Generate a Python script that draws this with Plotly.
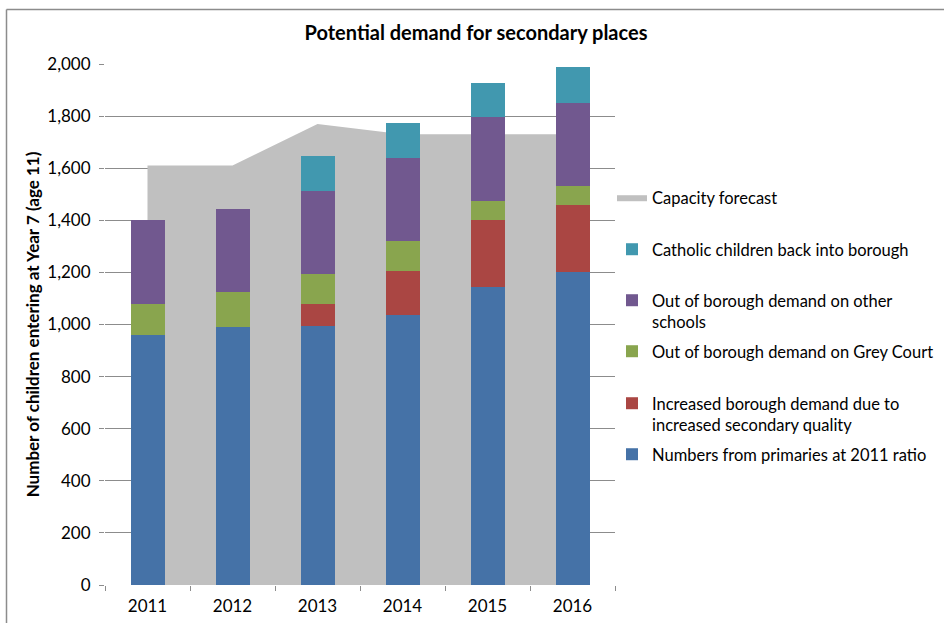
import plotly.graph_objects as go

YEARS = ["2011", "2012", "2013", "2014", "2015", "2016"]
CAPACITY = [1610, 1610, 1770, 1730, 1730, 1730]
PRIMARIES = [960, 989, 994, 1036, 1143, 1203]
INCREASED = [0, 0, 85, 169, 258, 257]
GREY_COURT = [119, 135, 115, 116, 74, 72]
OTHER_SCHOOLS = [322, 318, 319, 320, 320, 320]
CATHOLIC = [0, 0, 134, 131, 134, 137]

GREY_AREA = "#C0C0C0"
BLUE = "#4572A7"
RED = "#AA4643"
GREEN = "#89A54E"
PURPLE = "#71588F"
CYAN = "#4198AF"
AXIS_GRAY = "#8C8C8C"
TEXT = "#000000"
FONT = "Lato, 'Open Sans', sans-serif"

W, H = 944, 623
L, R, T, B = 105, 329, 64, 38
PW, PH = W - L - R, H - T - B


def px_x(x):
    return (x - L) / PW


def px_y(y):
    return (H - B - y) / PH


bar_series = [
    ("Numbers from primaries at 2011 ratio", PRIMARIES, BLUE, 454),
    ("Increased borough demand due to<br>increased secondary quality", INCREASED, RED, 403),
    ("Out of borough demand on Grey Court", GREY_COURT, GREEN, 351),
    ("Out of borough demand on other<br>schools", OTHER_SCHOOLS, PURPLE, 300),
    ("Catholic children back into borough", CATHOLIC, CYAN, 249),
]

fig = go.Figure()
fig.add_scatter(
    x=YEARS,
    y=CAPACITY,
    name="Capacity forecast",
    mode="lines",
    fill="tozeroy",
    fillcolor=GREY_AREA,
    line=dict(width=0, color=GREY_AREA),
    zorder=0,
    showlegend=True,
    legend="legend",
)

legends = {"legend": 197}
for i, (name, vals, color, ypos) in enumerate(bar_series):
    key = "legend%d" % (i + 2)
    fig.add_bar(
        x=YEARS,
        y=vals,
        name=name,
        marker=dict(color=color, line=dict(width=0)),
        width=0.4,
        zorder=1,
        showlegend=True,
        legend=key,
    )
    legends[key] = ypos

legend_layout = {}
for key, ypos in legends.items():
    legend_layout[key] = dict(
        visible=True,
        x=px_x(612),
        y=px_y(ypos - 17),
        xanchor="left",
        yanchor="top",
        valign="top",
        bgcolor="rgba(0,0,0,0)",
        font=dict(family=FONT, size=16.5, color=TEXT),
        itemclick=False,
        itemdoubleclick=False,
    )

fig.update_layout(
    width=W,
    height=H,
    margin=dict(l=L, r=R, t=T, b=B, autoexpand=False),
    paper_bgcolor="white",
    plot_bgcolor="white",
    barmode="stack",
    showlegend=True,
    font=dict(family=FONT, color=TEXT),
    title=dict(
        text="<b>Potential demand for secondary places</b>",
        x=476 / W,
        xref="container",
        xanchor="center",
        y=1 - 33 / H,
        yref="container",
        yanchor="middle",
        font=dict(family=FONT, size=20, color=TEXT),
    ),
    **legend_layout,
)

fig.update_xaxes(
    type="category",
    range=[-0.5, 5.5],
    automargin=False,
    showline=True,
    linecolor=AXIS_GRAY,
    linewidth=1,
    ticks="outside",
    tickson="boundaries",
    ticklen=5,
    tickcolor=AXIS_GRAY,
    showgrid=False,
    ticklabelstandoff=6,
    tickfont=dict(family=FONT, size=17, color=TEXT),
)
fig.update_yaxes(
    range=[0, 2000],
    dtick=200,
    tickformat=",",
    automargin=False,
    showline=True,
    linecolor=AXIS_GRAY,
    linewidth=1,
    ticks="outside",
    ticklen=5,
    tickcolor=AXIS_GRAY,
    showgrid=True,
    gridcolor=AXIS_GRAY,
    gridwidth=1,
    zeroline=False,
    ticklabelstandoff=5,
    tickfont=dict(family=FONT, size=17, color=TEXT),
    title=dict(
        text="<b>Number of children entering at Year 7 (age 11)</b>",
        font=dict(family=FONT, size=17, color=TEXT),
        standoff=3,
    ),
)

# chart frame
fig.add_shape(type="line", xref="paper", yref="paper",
              x0=px_x(6.5), x1=px_x(W + 10), y0=px_y(9.5), y1=px_y(9.5),
              line=dict(color=AXIS_GRAY, width=1.5))
fig.add_shape(type="line", xref="paper", yref="paper",
              x0=px_x(6.5), x1=px_x(6.5), y0=px_y(9.5), y1=px_y(H + 10),
              line=dict(color=AXIS_GRAY, width=1.5))

# the page's default body margin would shift the figure by 8px
fig.write_html(
    "out.html",
    config={"displayModeBar": False},
    post_script="document.body.style.margin='0';",
)
